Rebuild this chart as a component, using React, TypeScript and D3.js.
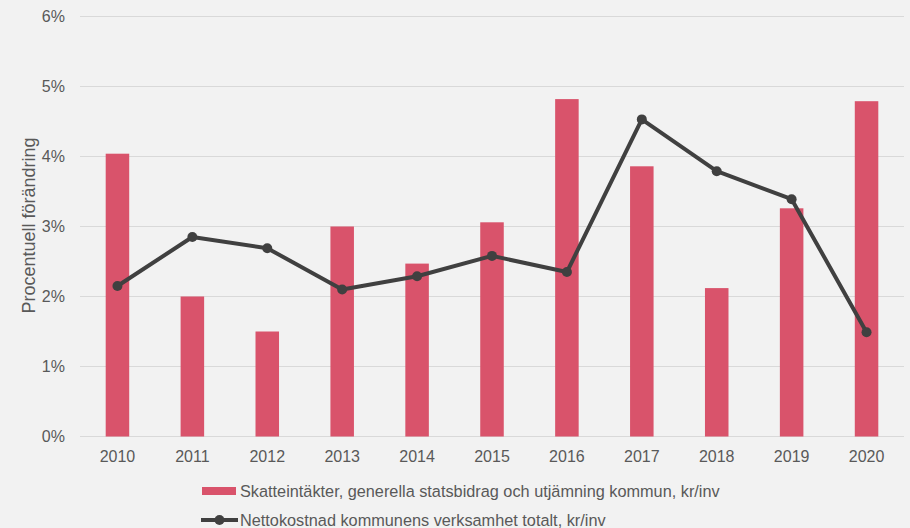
import React, { useEffect } from "react";
import { scaleBand, scaleLinear, line } from "d3";

const years = ["2010", "2011", "2012", "2013", "2014", "2015", "2016", "2017", "2018", "2019", "2020"];
// Skatteintäkter, generella statsbidrag och utjämning kommun, kr/inv (% change)
const taxIncome = [4.04, 2.0, 1.5, 3.0, 2.47, 3.06, 4.82, 3.86, 2.12, 3.26, 4.79];
// Nettokostnad kommunens verksamhet totalt, kr/inv (% change)
const netCost = [2.15, 2.85, 2.69, 2.1, 2.29, 2.58, 2.35, 4.53, 3.79, 3.39, 1.49];
const yTicks = [0, 1, 2, 3, 4, 5, 6];

const barLabel = "Skatteintäkter, generella statsbidrag och utjämning kommun, kr/inv";
const lineLabel = "Nettokostnad kommunens verksamhet totalt, kr/inv";

const WIDTH = 910;
const HEIGHT = 528;
const MARGIN = { top: 16.5, right: 6, bottom: 91.5, left: 80 };
const BAR_COLOR = "#d9536b";
const LINE_COLOR = "#404040";
const TEXT_COLOR = "#595959";
const FONT = "'Liberation Sans', Arial, sans-serif";

export default function App() {
  useEffect(() => {
    document.body.style.margin = "0";
    document.body.style.overflow = "hidden";
  }, []);

  const x = scaleBand<string>()
    .domain(years)
    .range([MARGIN.left, WIDTH - MARGIN.right])
    .paddingInner(0.686)
    .paddingOuter(0.343);
  const center = (yr: string) => (x(yr) ?? 0) + x.bandwidth() / 2;

  const y = scaleLinear().domain([0, 6]).range([HEIGHT - MARGIN.bottom, MARGIN.top]);

  const pts = years.map((yr, i) => [center(yr), y(netCost[i])] as [number, number]);
  const path = line()(pts) || "";

  return (
    <div style={{ position: "fixed", left: 0, top: 0 }}>
      <svg width={WIDTH} height={HEIGHT} style={{ display: "block", background: "#f2f2f2" }} fontFamily={FONT}>
        {/* gridlines + y labels */}
        {yTicks.map((t) => (
          <g key={t}>
            <line x1={MARGIN.left} x2={WIDTH - MARGIN.right} y1={y(t)} y2={y(t)} stroke="#d9d9d9" strokeWidth={1} />
            <text x={65} y={y(t) + 5.5} textAnchor="end" fontSize={16} fill={TEXT_COLOR}>
              {t}%
            </text>
          </g>
        ))}

        {/* bars */}
        {years.map((yr, i) => (
          <rect
            key={yr}
            x={x(yr)}
            y={y(taxIncome[i])}
            width={x.bandwidth()}
            height={y(0) - y(taxIncome[i])}
            fill={BAR_COLOR}
          />
        ))}

        {/* line */}
        <path d={path} fill="none" stroke={LINE_COLOR} strokeWidth={4} strokeLinejoin="round" />
        {pts.map(([px, py], i) => (
          <circle key={years[i]} cx={px} cy={py} r={5} fill={LINE_COLOR} />
        ))}

        {/* x labels */}
        {years.map((yr) => (
          <text key={yr} x={center(yr)} y={y(0) + 25.5} textAnchor="middle" fontSize={16} fill={TEXT_COLOR}>
            {yr}
          </text>
        ))}

        {/* y axis title */}
        <text
          transform={`translate(${34.5},${225.5}) rotate(-90)`}
          textAnchor="middle"
          fontSize={18}
          fill={TEXT_COLOR}
        >
          Procentuell förändring
        </text>

        {/* legend */}
        <rect x={202} y={487} width={34} height={8} fill={BAR_COLOR} />
        <text x={240} y={497} fontSize={16.3} fill={TEXT_COLOR}>
          {barLabel}
        </text>
        <line x1={201} x2={238} y1={520} y2={520} stroke={LINE_COLOR} strokeWidth={4} />
        <circle cx={219.5} cy={520} r={5} fill={LINE_COLOR} />
        <text x={240} y={526} fontSize={16.3} fill={TEXT_COLOR}>
          {lineLabel}
        </text>
      </svg>
    </div>
  );
}
